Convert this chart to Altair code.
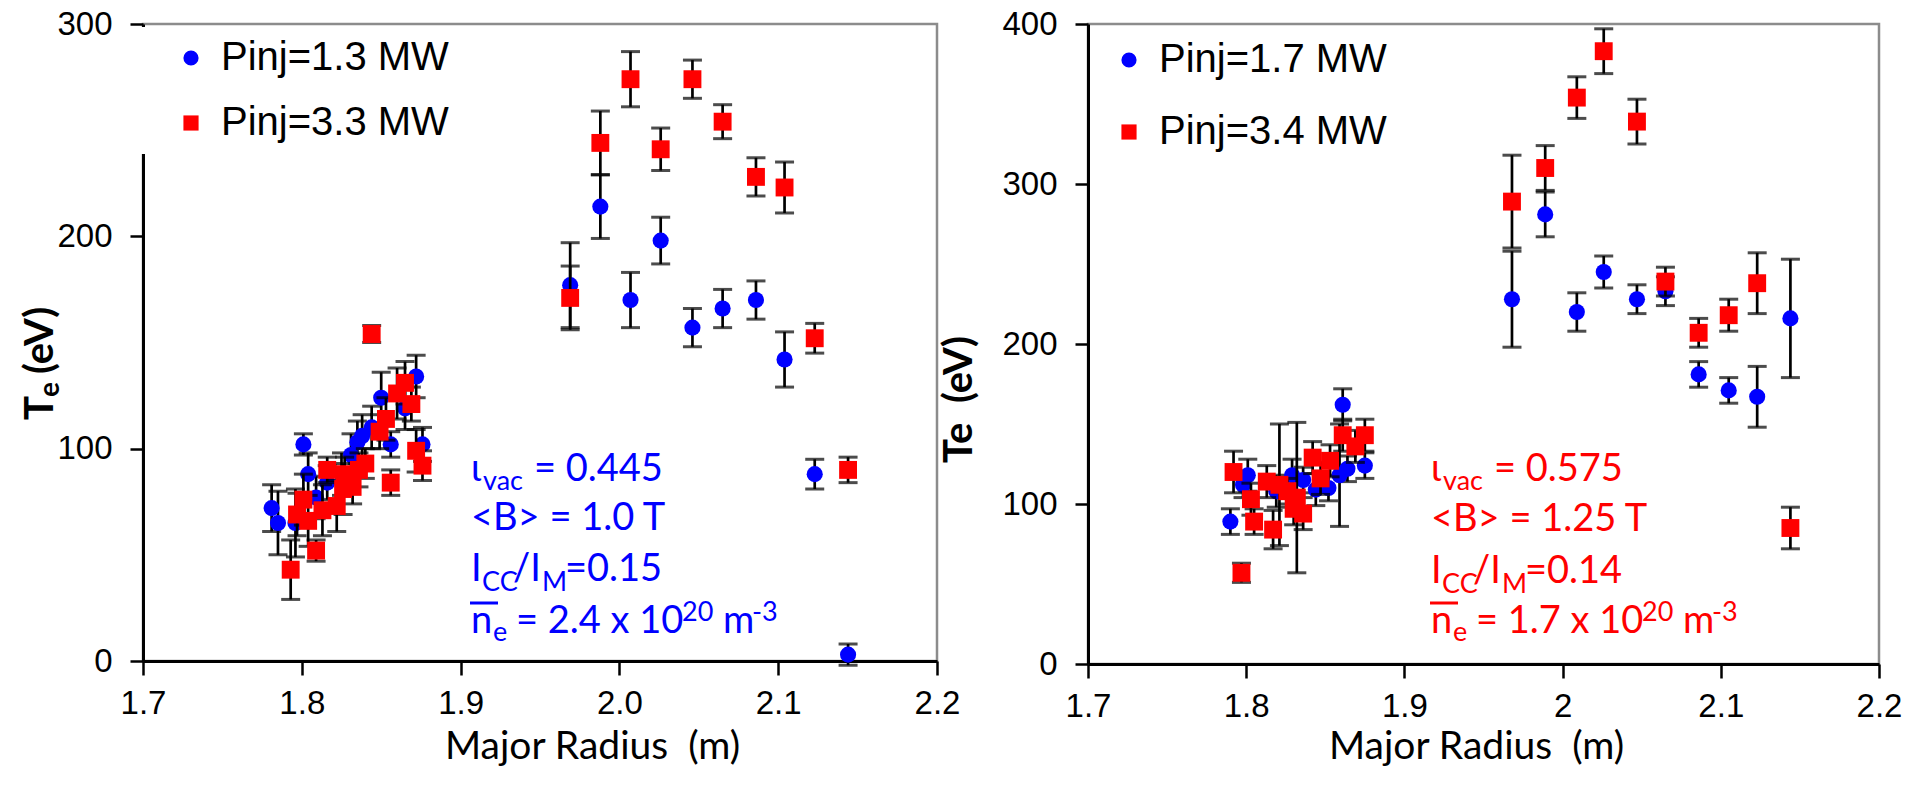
import altair as alt
import pandas as pd

# ---------------- data ----------------
L_BLUE_X = [1.781, 1.785, 1.796, 1.801, 1.804, 1.809, 1.816, 1.825, 1.831, 1.835, 1.838, 1.844, 1.850, 1.856,
            1.865, 1.872, 1.876, 1.969, 1.988, 2.007, 2.026, 2.046, 2.065, 2.086, 2.104, 2.123, 2.144]
L_BLUE_Y = [72, 65, 65, 102, 88, 77, 84, 88, 97, 103, 106, 110, 124, 102,
            119, 134, 102, 177, 214, 170, 198, 157, 166, 170, 142, 88, 3]
L_BLUE_E = [11, 15, 16, 5, 10, 10, 8, 10, 10, 10, 10, 10, 12, 6,
            10, 10, 8, 20, 15, 13, 11, 9, 9, 9, 13, 7, 5]

L_RED_X = [1.793, 1.797, 1.801, 1.804, 1.809, 1.813, 1.816, 1.822, 1.826, 1.827, 1.832, 1.836, 1.840, 1.844,
           1.849, 1.853, 1.856, 1.860, 1.865, 1.869, 1.872, 1.876, 1.969, 1.988, 2.007, 2.026, 2.046, 2.065,
           2.086, 2.104, 2.123, 2.144]
L_RED_Y = [43, 69, 76, 66, 52, 71, 90, 73, 81, 88, 82, 90, 93, 154,
           108, 114, 84, 126, 131, 121, 99, 92, 171, 244, 274, 241, 274, 254,
           228, 223, 152, 90]
L_RED_E = [14, 10, 12, 12, 5, 12, 6, 12, 12, 8, 8, 8, 7, 4,
           8, 10, 6, 12, 10, 8, 10, 7, 15, 15, 13, 10, 9, 8,
           9, 12, 7, 6]

R_BLUE_X = [1.790, 1.798, 1.801, 1.819, 1.829, 1.836, 1.844, 1.852, 1.859, 1.861, 1.864, 1.875,
            1.968, 1.989, 2.009, 2.026, 2.047, 2.065, 2.086, 2.105, 2.123, 2.144]
R_BLUE_Y = [89, 112, 118, 108, 118, 115, 109, 110, 118, 162, 122, 124,
            228, 281, 220, 245, 228, 233, 181, 171, 167, 216]
R_BLUE_E = [8, 8, 10, 10, 10, 8, 10, 8, 32, 10, 8, 8,
            30, 14, 12, 10, 9, 9, 8, 8, 19, 37]

R_RED_X = [1.792, 1.797, 1.803, 1.805, 1.813, 1.817, 1.821, 1.826, 1.830, 1.832, 1.836, 1.842, 1.847,
           1.853, 1.861, 1.869, 1.875, 1.968, 1.989, 2.009, 2.026, 2.047, 2.065, 2.086, 2.105, 2.123, 2.144]
R_RED_Y = [120, 57, 103, 89, 114, 84, 112, 108, 97, 104, 94, 129, 116,
           127, 143, 136, 143, 289, 310, 354, 383, 339, 239, 207, 218, 238, 85]
R_RED_E = [13, 6, 10, 8, 10, 12, 38, 8, 10, 47, 10, 10, 10,
           10, 10, 10, 10, 29, 14, 13, 14, 14, 9, 9, 10, 19, 13]

SERIES_L = ["Pinj=1.3 MW", "Pinj=3.3 MW"]
SERIES_R = ["Pinj=1.7 MW", "Pinj=3.4 MW"]

X_TICKS = [1.7, 1.8, 1.9, 2.0, 2.1, 2.2]
Y_TICKS_L = [0, 100, 200, 300]
Y_TICKS_R = [0, 100, 200, 300, 400]

X_TITLE = "Major Radius\u00a0 (m)"
Y_TITLE_R = "Te\u00a0 (eV)"
# left y title drawn as pieces (T, subscript e, (eV))
Y_TITLE_L = ["T", "e", "(eV)"]
Y_TITLE_L_X = [-90, -84, -90]
Y_TITLE_L_Y = [396, 373, 350]
Y_TITLE_L_SIZE = [40, 28, 40]

# annotation segments
ANN_L = ["\u03b9", "vac", "= 0.445", "<B> = 1.0 T", "I", "CC", "/I", "M", "=0.15",
         "n", "e", "= 2.4 x 10", "20", "m", "-3"]
ANN_R = ["\u03b9", "vac", "= 0.575", "<B> = 1.25 T", "I", "CC", "/I", "M", "=0.14",
         "n", "e", "= 1.7 x 10", "20", "m", "-3"]
ANN_DX = [0, 12, 63, 0, 0, 11, 42, 71, 94, 0, 22, 45, 211, 252, 281]
ANN_LINE = [0, 0, 0, 1, 2, 2, 2, 2, 2, 3, 3, 3, 3, 3, 3]
ANN_DY = [0, 9, 0, 0, 0, 10, 0, 10, 0, 0, 8, 0, -12, 0, -12]
ANN_SIZE = [38, 27, 38, 38, 38, 27, 38, 27, 38, 38, 27, 38, 27, 38, 27]

BLUE = "#0000ff"
RED = "#ff0000"
TICK_FONT = "Liberation Sans"
ANN_FONT = "Lato"


def frame(xs, ys, es, label):
    return pd.DataFrame({"x": xs, "y": ys, "e": es, "s": label})


def panel(blue, red, labels, ymax, yticks, xfmt, w, h, ytitle, ytx, yty, xtx, xty,
          lgx, lgy, rowpad, ann, ann_col, ax0, base_y, cover, manual_ytitle):
    df = pd.concat([blue, red], ignore_index=True)
    xs = alt.Scale(domain=[1.7, 2.2], nice=False, zero=False)
    ys = alt.Scale(domain=[0, ymax], nice=False)
    xax = alt.Axis(values=X_TICKS, format=xfmt, title=X_TITLE, grid=False,
                   domainColor="black", domainWidth=3, tickColor="black", tickWidth=2.5, tickSize=14,
                   labelFont=TICK_FONT, labelFontSize=33, labelColor="black", labelPadding=12,
                   labelFlush=False, labelOverlap=False,
                   titleFont=ANN_FONT, titleFontSize=39, titleFontWeight="normal", titleColor="black",
                   titleX=xtx, titleY=xty, titleBaseline="middle", titleAlign="center")
    yax_kw = dict(values=yticks, grid=False,
                  domainColor="black", domainWidth=3, tickColor="black", tickWidth=2.5, tickSize=13,
                  labelFont=TICK_FONT, labelFontSize=33, labelColor="black", labelPadding=18,
                  labelFlush=False, labelOverlap=False)
    if ytitle is None:
        yax = alt.Axis(title=None, **yax_kw)
    else:
        yax = alt.Axis(title=ytitle, titleFont=ANN_FONT, titleFontSize=40, titleFontWeight="bold",
                       titleColor="black", titleX=ytx, titleY=yty, titleBaseline="middle",
                       titleAlign="center", titleAngle=270, **yax_kw)
    leg = alt.Legend(orient="none", legendX=lgx, legendY=lgy, title=None, labelFont=TICK_FONT,
                     labelFontSize=40, labelColor="black", symbolSize=230, symbolStrokeWidth=0,
                     rowPadding=rowpad, labelOffset=10, padding=0, labelLimit=400)
    color = alt.Color("s:N", scale=alt.Scale(domain=labels, range=[BLUE, RED]), legend=leg)
    shape = alt.Shape("s:N", scale=alt.Scale(domain=labels, range=["circle", "square"]), legend=leg)

    base = alt.Chart(df).transform_calculate(lo="datum.y - datum.e", hi="datum.y + datum.e")
    X = alt.X("x:Q", scale=xs, axis=xax)

    layers = []
    if cover is not None:
        layers.append(alt.Chart().mark_rect(color="white").encode(
            x=alt.value(cover[0]), x2=alt.value(cover[1]), y=alt.value(cover[2]), y2=alt.value(cover[3])))
    for lab, sz in zip(labels, [260, 320]):
        sub = base.transform_filter(alt.datum.s == lab)
        layers.append(sub.mark_rule(color="black", strokeWidth=2.7).encode(
            x=X, y=alt.Y("lo:Q", scale=ys, axis=yax), y2="hi:Q"))
        layers.append(sub.mark_tick(orient="horizontal", color="black", size=19, thickness=3).encode(
            x=X, y=alt.Y("lo:Q", scale=ys, axis=yax)))
        layers.append(sub.mark_tick(orient="horizontal", color="black", size=19, thickness=3).encode(
            x=X, y=alt.Y("hi:Q", scale=ys, axis=yax)))
        layers.append(sub.mark_point(filled=True, opacity=1, size=sz, strokeWidth=0).encode(
            x=X, y=alt.Y("y:Q", scale=ys, axis=yax), color=color, shape=shape))

    adf = pd.DataFrame({
        "t": ann,
        "px": [ax0 + d for d in ANN_DX],
        "py": [base_y[l] + d for l, d in zip(ANN_LINE, ANN_DY)],
        "fs": ANN_SIZE,
    })
    layers.append(alt.Chart(adf).mark_text(align="left", baseline="alphabetic", font=ANN_FONT,
                                           color=ann_col).encode(
        x=alt.X("px:Q", scale=None, axis=None), y=alt.Y("py:Q", scale=None, axis=None),
        size=alt.Size("fs:Q", scale=None, legend=None), text="t:N"))
    # overline of n_e
    layers.append(alt.Chart().mark_rule(color=ann_col, strokeWidth=3).encode(
        x=alt.value(ax0 - 1), x2=alt.value(ax0 + 27), y=alt.value(base_y[3] - 30)))

    if manual_ytitle is not None:
        tdf = pd.DataFrame({"t": manual_ytitle[0], "px": manual_ytitle[1],
                            "py": manual_ytitle[2], "fs": manual_ytitle[3]})
        layers.append(alt.Chart(tdf).mark_text(align="left", baseline="alphabetic", font=ANN_FONT,
                                               fontWeight="bold", angle=270, color="black").encode(
            x=alt.X("px:Q", scale=None, axis=None), y=alt.Y("py:Q", scale=None, axis=None),
            size=alt.Size("fs:Q", scale=None, legend=None), text="t:N"))

    return alt.layer(*layers).properties(width=w, height=h)


left = panel(frame(L_BLUE_X, L_BLUE_Y, L_BLUE_E, SERIES_L[0]), frame(L_RED_X, L_RED_Y, L_RED_E, SERIES_L[1]),
             SERIES_L, 300, Y_TICKS_L, ".1f", 794, 637, None, 0, 0, 449, 85,
             28, 14, 25, ANN_L, BLUE, 328, [457, 506, 557, 609], (-8, 300, 3, 130),
             (Y_TITLE_L, Y_TITLE_L_X, Y_TITLE_L_Y, Y_TITLE_L_SIZE))
right = panel(frame(R_BLUE_X, R_BLUE_Y, R_BLUE_E, SERIES_R[0]), frame(R_RED_X, R_RED_Y, R_RED_E, SERIES_R[1]),
              SERIES_R, 400, Y_TICKS_R, "~g", 791, 640, Y_TITLE_R, -129, 375, 388, 82,
              21, 16, 32, ANN_R, RED, 343, [457, 507, 559, 609], None, None)

chart = alt.hconcat(left, right, spacing=151, bounds="flush").resolve_scale(
    color="independent", shape="independent", x="independent", y="independent"
).properties(
    padding={"left": 19, "top": 6, "right": 0, "bottom": 0},
    background="white",
).configure_view(stroke="#8c8c8c", strokeWidth=2.5)

chart.save("out.html", embed_options={"renderer": "svg", "actions": False})
